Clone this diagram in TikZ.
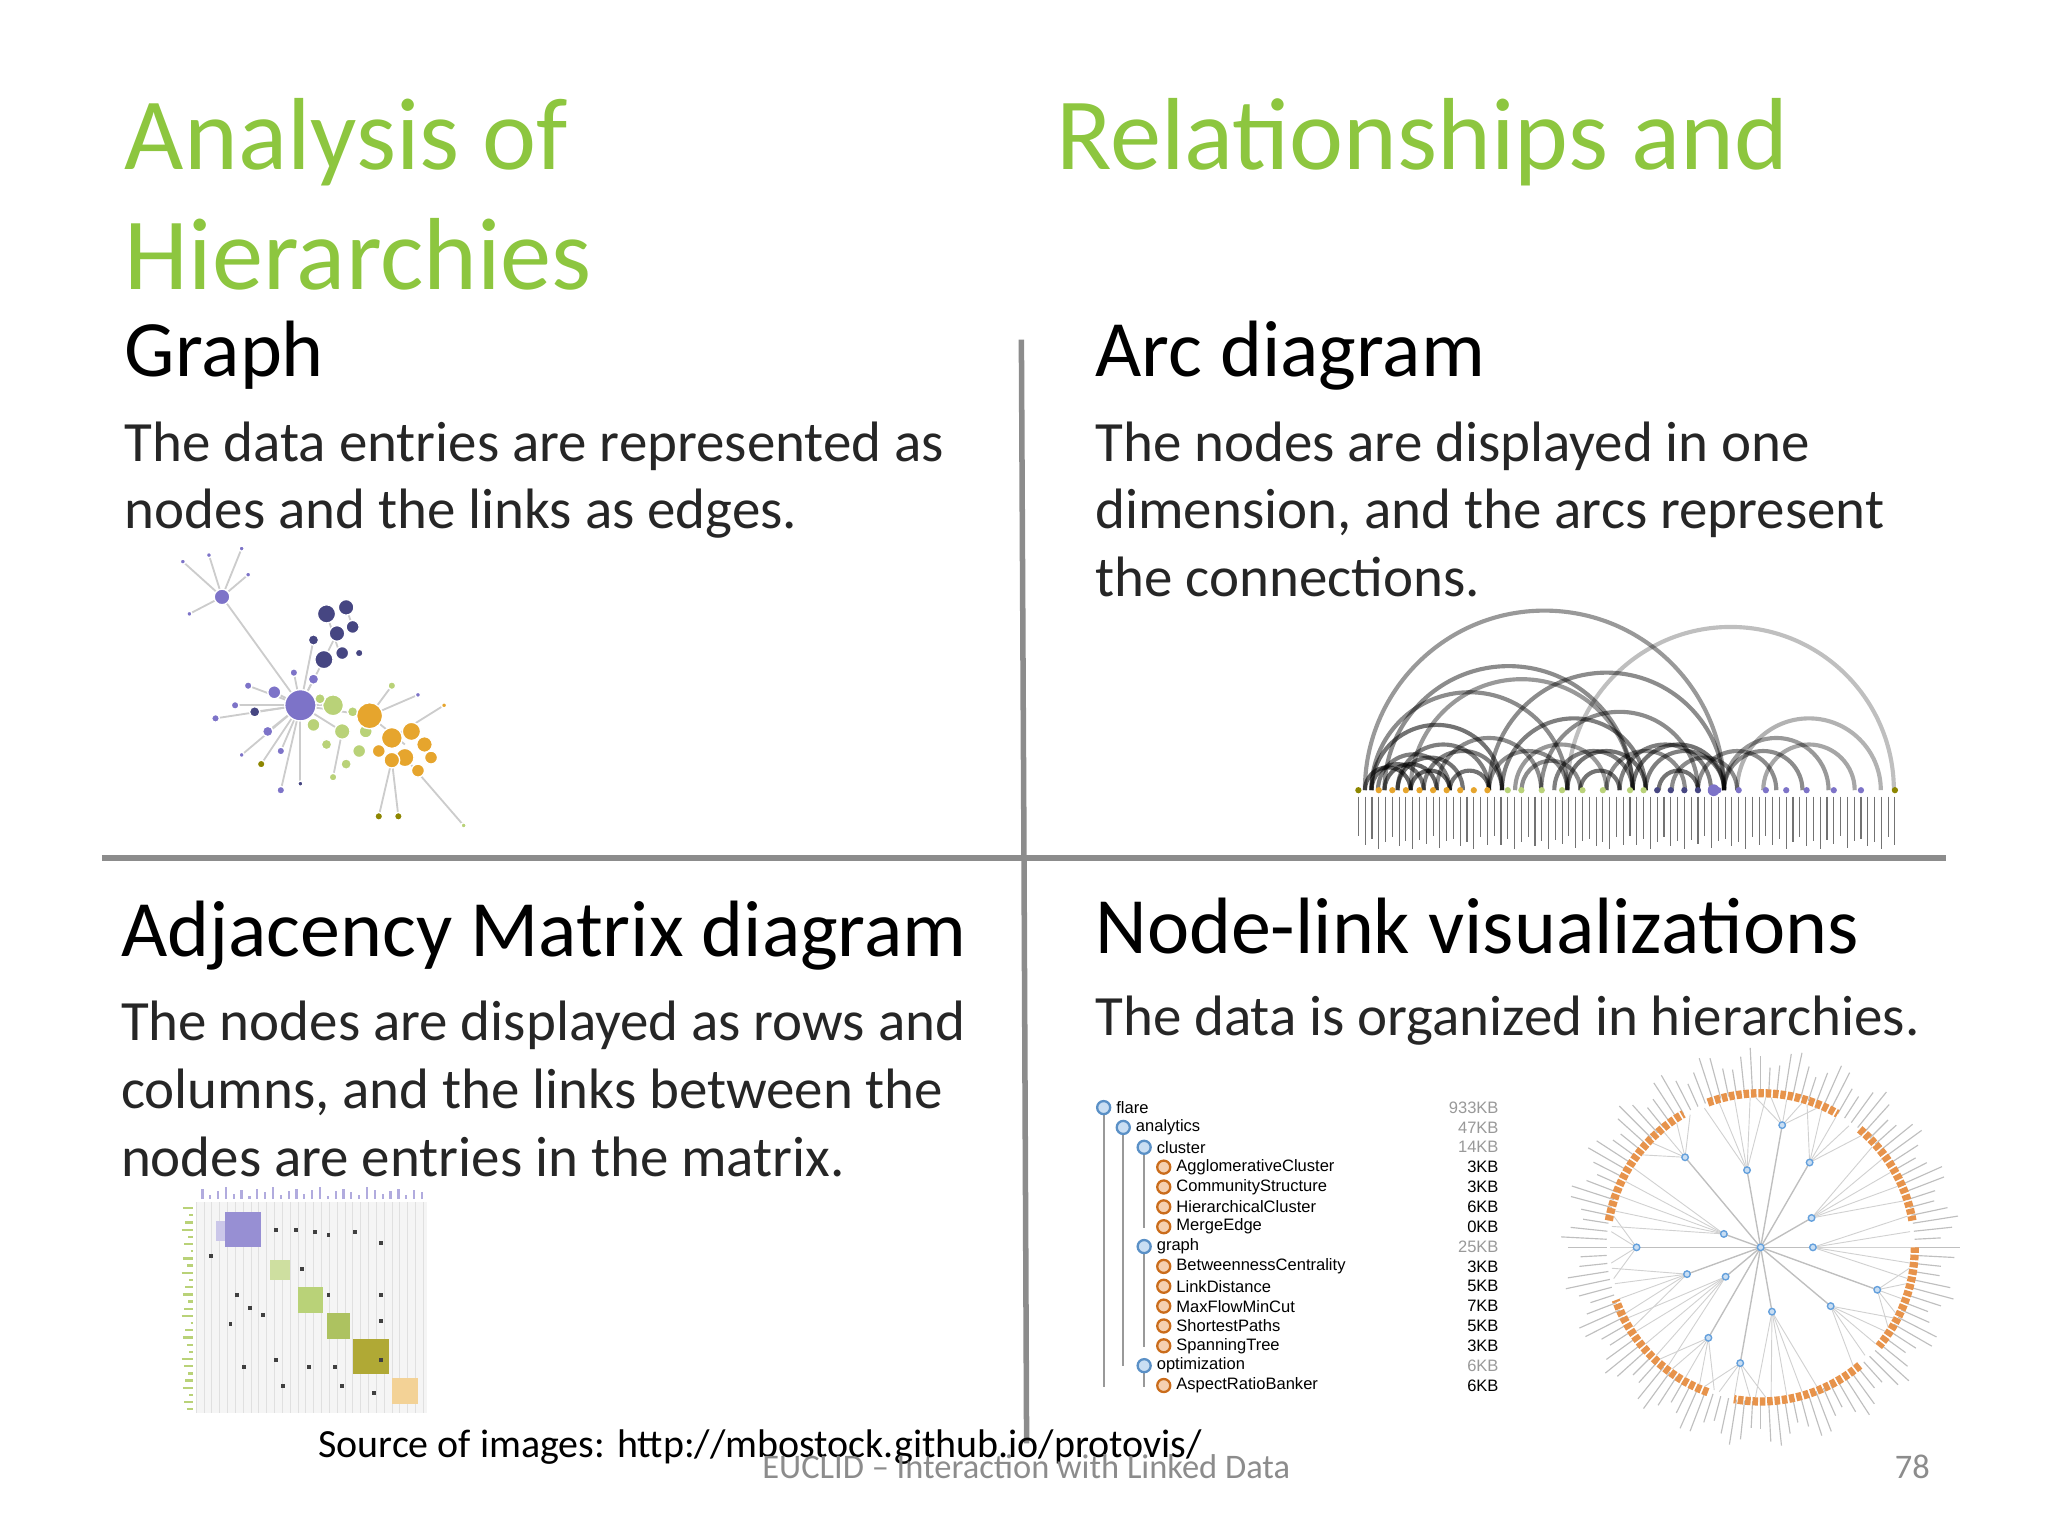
\documentclass[tikz,border=0pt]{standalone}
\usepackage{fontspec}
\setmainfont{Carlito}
\newfontfamily\helv{Liberation Sans}
\definecolor{tgreen}{RGB}{141,198,63}
\definecolor{pur}{RGB}{125,115,200}
\definecolor{navy}{RGB}{70,70,130}
\definecolor{lgr}{RGB}{185,210,120}
\definecolor{org}{RGB}{230,165,45}
\definecolor{treeo}{RGB}{225,120,30}
\definecolor{treeb}{RGB}{100,160,220}
\begin{document}
\begin{tikzpicture}[x=0.01cm,y=-0.01cm,
  ttl/.style={anchor=base west,inner sep=0,text=tgreen,font=\fontsize{22.3}{27}\selectfont},
  hd/.style={anchor=base west,inner sep=0,font=\fontsize{17.4}{20}\selectfont},
  bd/.style={anchor=base west,inner sep=0,text=black!85,font=\fontsize{12.4}{15}\selectfont},
  tl/.style={anchor=west,inner sep=0,font=\helv\fontsize{3.6}{4.5}\selectfont},
  ts/.style={anchor=east,inner sep=0,font=\helv\fontsize{3.6}{4.5}\selectfont},
  sep/.style={draw=black!45,line width=1.2pt},
  edge/.style={draw=black!20,line width=0.4pt}]
\useasboundingbox (0,0) rectangle (1568,1176);
% titles
\node[ttl] (t1) at (95,130) {Analysis of};
\node[ttl] (t2) at (95,222) {Hierarchies};
\node[ttl] (t3) at (808,130) {Relationships and};
% headings
\node[hd] (h1) at (95,288) {Graph};
\node[hd] (h2) at (838,288) {Arc diagram};
\node[hd] (h3) at (92,732) {Adjacency Matrix diagram};
\node[hd] (h4) at (838,730) {Node-link visualizations};
% bodies
\node[bd] (b1) at (95,353) {The data entries are represented as};
\node[bd] (b2) at (95,405) {nodes and the links as edges.};
\node[bd] (b3) at (838,353) {The nodes are displayed in one};
\node[bd] (b4) at (838,405) {dimension, and the arcs represent};
\node[bd] (b5) at (838,457) {the connections.};
\node[bd] (b6) at (92,797) {The nodes are displayed as rows and};
\node[bd] (b7) at (92,849) {columns, and the links between the};
\node[bd] (b8) at (92,901) {nodes are entries in the matrix.};
\node[bd] (b9) at (838,793) {The data is organized in hierarchies.};
% separators
\coordinate (hl) at (78,657); \coordinate (hr) at (1490,657);
\coordinate (vt) at (782,260); \coordinate (vm) at (784,657); \coordinate (vb) at (786,1105);
\draw[sep] (hl) -- (hr);
\draw[sep] (vt) -- (vm) -- (vb);
% footer
\node[anchor=base west,inner sep=0,font=\fontsize{8.7}{10}\selectfont] (src) at (243,1116) {Source of images: http://mbostock.github.io/protovis/};
\node[anchor=base west,inner sep=0,text=black!45,font=\fontsize{7.5}{9}\selectfont] (ft) at (583,1132) {EUCLID – Interaction with Linked Data};
\node[anchor=base west,inner sep=0,text=black!45,font=\fontsize{7.5}{9}\selectfont] (pg) at (1450,1132) {78};
% ---------- graph picture
\coordinate (g0) at (230,540);
\foreach \x/\y in {210/530,195/545,180/540,205/560,215/575,190/525,240/520,225/515,248/505,240/490,255/540,240/555,262/560,245/535,283/548,200/585,215/605,185/578,165/550,230/600,170/457}
  \draw[edge] (g0) -- (\x,\y);
\draw[edge] (170,457) -- (140,430) (170,457)--(160,425) (170,457)--(185,420) (170,457)--(190,440) (170,457)--(145,470) (283,548)--(310,570) (260,500)--(250,470) (290,625)--(300,582) (310,580)--(355,632) (262,560)--(255,595) (248,505)--(258,485) (265,465)--(270,480) (283,548)--(300,525) (283,548)--(320,532) (300,565)--(340,540) (305,625)--(300,582);
\foreach \x/\y/\r/\c in {170/457/6/pur,140/430/2/pur,160/425/2/pur,185/420/2/pur,190/440/2/pur,145/470/2/pur,
  230/540/12/pur,210/530/5/pur,195/545/4/navy,180/540/3/pur,205/560/4/pur,215/575/3/pur,190/525/3/pur,240/520/4/pur,225/515/3/pur,
  250/470/7/navy,265/465/6/navy,258/485/6/navy,270/480/5/navy,248/505/7/navy,262/500/5/navy,240/490/4/navy,275/500/3/navy,
  255/540/8/lgr,240/555/5/lgr,262/560/6/lgr,275/575/5/lgr,265/585/4/lgr,250/570/4/lgr,280/560/5/lgr,270/545/4/lgr,245/535/4/lgr,
  283/548/10/org,300/565/8/org,315/560/7/org,310/580/7/org,325/570/6/org,300/582/6/org,330/580/5/org,320/590/5/org,290/575/5/org,
  200/585/3/olive,215/605/3/pur,185/578/2/pur,290/625/3/olive,305/625/3/olive,355/632/2/lgr,320/532/2/pur,300/525/3/lgr,165/550/3/pur,255/595/3/lgr,230/600/2/navy,340/540/2/org}
  \fill[\c,draw=white,line width=0.3pt] (\x,\y) circle (\r);
% ---------- arc diagram
\foreach \a/\b/\o in {1045/1320/40,1200/1450/25,1060/1250/45,1050/1200/45,1080/1250/40,1140/1320/45,1050/1150/55,1070/1140/50,1150/1260/50,1180/1300/45,1200/1260/55,1250/1320/55,1260/1320/50,1320/1400/40,1320/1380/45,1300/1360/45,1060/1100/60,1070/1120/55,1080/1110/60,1090/1150/50,1100/1180/45,1210/1240/55,1230/1290/45,1270/1300/55,1280/1330/45,1050/1090/55,1140/1200/45,1160/1230/40,1190/1250/50,1330/1440/30,1350/1420/35,1240/1310/50,1110/1140/55,1045/1080/60,1055/1110/50,1165/1210/45}
  \draw[black,opacity=0.\o,line width=0.9pt] (\a,605) arc[start angle=180,end angle=360,radius={(\b-\a)/2}];
\foreach \i/\l in {0/640,1/647,2/642,3/650,4/645,5/641,6/648,7/644,8/650,9/643,10/646,11/640,12/649,13/644,14/642,15/648,16/645,17/650,18/641,19/647}{
  \foreach \j in {0,20,40,60}{
    \draw[black!55,line width=0.25pt] ({1040+(\i+\j)*5.2},610) -- ({1040+(\i+\j)*5.2},\l);
  }
}
\foreach \i/\c in {0/olive,3/org,5/org,7/org,9/org,11/org,13/org,15/org,17/org,19/org,22/lgr,24/lgr,27/lgr,30/lgr,33/lgr,36/lgr,40/lgr,42/lgr,44/navy,46/navy,48/navy,50/navy,53/pur,56/pur,60/pur,63/pur,66/pur,70/pur,74/pur,79/olive}
  \fill[\c] ({1040+\i*5.2},605) circle (2.4);
\fill[pur] (1312,605) circle (4.5);
% ---------- matrix
\fill[black!4] (150,920) rectangle (327,1082);
\draw[black!12,line width=0.1pt,step=6] (150,920) grid (327,1082);
\foreach \i/\h in {0/8,1/3,2/6,3/9,4/4,5/7,6/2,7/8,8/5,9/9,10/3,11/6,12/8,13/4,14/7,15/9,16/2,17/6,18/8,19/5,20/3,21/9,22/7,23/4,24/6,25/8,26/3,27/7,28/5}{
  \draw[pur!60,line width=0.5pt] ({155+\i*6},918) -- ({155+\i*6},{918-\h});
  \draw[lgr,line width=0.5pt] ({148-\h},{925+\i*5.5}) -- (148,{925+\i*5.5});}
\fill[pur!80] (172,928) rectangle (200,955);
\fill[pur!40] (165,935) rectangle (172,950);
\fill[lgr!70] (207,965) rectangle (222,980);
\fill[lgr] (228,985) rectangle (247,1005);
\fill[lgr!80!olive] (250,1005) rectangle (268,1025);
\fill[olive!70] (270,1025) rectangle (298,1052);
\fill[org!50] (300,1055) rectangle (320,1075);
\foreach \x/\y in {210/940,225/940,240/942,250/944,270/942,180/990,190/1000,200/1005,175/1012,210/1040,235/1045,255/1045,290/950,290/990,290/1040,290/1010,185/1045,215/1060,160/960,230/970,250/990,260/1060,285/1065}
  \fill[black!75] (\x,\y) rectangle ++(3,3);
% ---------- tree list
\draw[black!40,line width=0.4pt] (845,853) -- (845,1062) (860,868) -- (860,1046) (876,884) -- (876,940) (876,960) -- (876,1031) (876,1051) -- (876,1062);
\foreach \n/\xx/\col/\sz/\szc [count=\k from 0] in {flare/845/treeb/933KB/black!40,analytics/860/treeb/47KB/black!40,cluster/876/treeb/14KB/black!40,AgglomerativeCluster/891/treeo/3KB/black,CommunityStructure/891/treeo/3KB/black,HierarchicalCluster/891/treeo/6KB/black,MergeEdge/891/treeo/0KB/black,graph/876/treeb/25KB/black!40,BetweennessCentrality/891/treeo/3KB/black,LinkDistance/891/treeo/5KB/black,MaxFlowMinCut/891/treeo/7KB/black,ShortestPaths/891/treeo/5KB/black,SpanningTree/891/treeo/3KB/black,optimization/876/treeb/6KB/black!40,AspectRatioBanker/891/treeo/6KB/black}{
  \pgfmathsetmacro{\yy}{848+\k*15.2}
  \fill[\col!35,draw=\col!90!black,line width=0.5pt] (\xx,\yy) circle (5);
  \node[tl] at (\xx+9,\yy) {\n};
  \node[ts,text=\szc] at (1148,\yy) {\sz};
}
% ---------- radial tree
\coordinate (rc) at (1348,955);
\foreach \a [count=\q] in {0,3,...,357}{
  \pgfmathsetmacro{\ro}{145+8*sin(\q*77)}
  \draw[black!25,line width=0.25pt] ({1348+118*cos(\a)},{955+118*sin(\a)}) -- ({1348+\ro*cos(\a)},{955+\ro*sin(\a)});
}
\foreach \s/\e in {-170/-120,-110/-60,-50/-10,0/40,50/100,110/160}
  \draw[treeo!80,line width=1.8pt,dash pattern=on 1.2pt off 0.4pt] ([shift={(\s:118)}]1348,955) arc[start angle=\s,end angle=\e,radius=118];
\foreach \a/\r in {0/40,40/70,80/50,120/80,160/60,200/30,230/90,260/60,300/75,330/45,20/95,100/90,180/95,280/95,140/35}{
  \foreach \d in {-12,-6,0,6,12}
    \draw[black!18,line width=0.2pt] ({1348+\r*cos(\a)},{955+\r*sin(\a)}) -- ({1348+115*cos(\a+\d)},{955+115*sin(\a+\d)});
  \draw[black!25,line width=0.3pt] (rc) -- ({1348+\r*cos(\a)},{955+\r*sin(\a)});
  \fill[treeb!35,draw=treeb,line width=0.3pt] ({1348+\r*cos(\a)},{955+\r*sin(\a)}) circle (2.5);
}
\fill[treeb!35,draw=treeb,line width=0.3pt] (rc) circle (2.5);
\end{tikzpicture}
\end{document}
